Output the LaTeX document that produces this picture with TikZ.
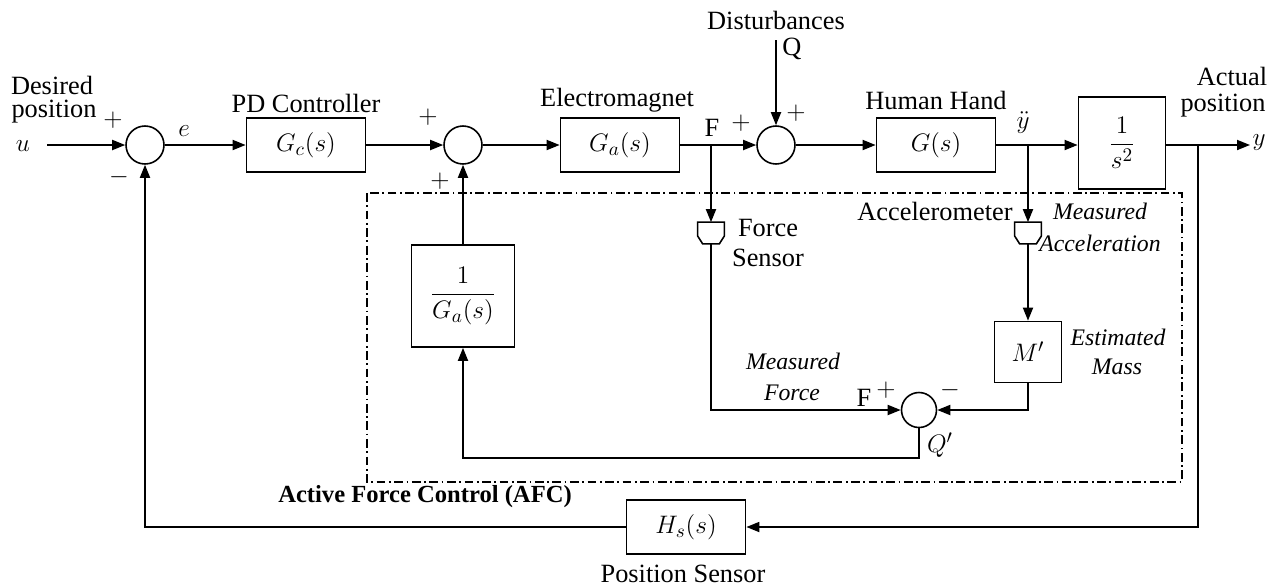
\documentclass[tikz,border=0pt]{standalone}
\usepackage{fontspec}
\setmainfont{Liberation Serif}
\usepackage{amsmath}
\usetikzlibrary{arrows.meta,positioning,calc}
\tikzset{
  blk/.style={draw,line width=1pt,minimum width=2.38cm,minimum height=1.08cm,
              font=\fontsize{15}{18}\selectfont,inner sep=0pt},
  sumj/.style={draw,circle,line width=0.9pt,minimum size=0.76cm,inner sep=0pt},
  sensor/.style={minimum width=0.52cm,minimum height=0.42cm,inner sep=0pt},
  arr/.style={-{Triangle[length=7.4pt,width=5.7pt]},line width=1pt},
  wire/.style={line width=1pt},
  lbl/.style={font=\fontsize{15}{18}\selectfont,inner sep=0pt},
  ilbl/.style={font=\fontsize{13.5}{16}\selectfont\itshape,inner sep=0pt},
  afcbox/.style={line width=1pt,dash pattern=on 5pt off 2pt on 1pt off 2pt},
}
\begin{document}
\begin{tikzpicture}[x=0.02cm,y=-0.02cm]
  \useasboundingbox (0,0) rectangle (1276,586);
  \node[sumj](s1) at (145,145){};
  \node[blk](gc) at (306,145){$G_c(s)$};
  \node[sumj](s2) at (463,145){};
  \node[blk](ga) at (620,145){$G_a(s)$};
  \node[sumj](s3) at (776,145){};
  \node[blk](gh) at (936,145){$G(s)$};
  \node[blk,minimum width=1.74cm,minimum height=1.84cm](ss) at (1122,143){$\dfrac{1}{s^2}$};
  \node[blk,minimum width=2.06cm,minimum height=2.04cm](inv) at (463,296){$\dfrac{1}{G_a(s)}$};
  \node[blk,minimum width=1.34cm,minimum height=1.22cm](mm) at (1028,352){$M'$};
  \node[sumj,minimum size=0.7cm](sq) at (919,410){};
  \node[blk](hs) at (686,527){$H_s(s)$};
  \node[sensor](fs) at (711,233){};
  \node[sensor](acc) at (1028,233){};
  \coordinate (uin) at (47,145);
  \coordinate (fpt) at (711,145);
  \coordinate (ydd) at (1028,145);
  \coordinate (ypt) at (1198,145);
  \coordinate (yout) at (1250,145);
  \coordinate (dist) at (776,40);
  \coordinate (qlow) at (0,458);

  \draw[afcbox] (367,193) rectangle (1182,482);

  \draw[arr] (uin) -- (s1);
  \draw[arr] (s1) -- (gc);
  \draw[arr] (gc) -- (s2);
  \draw[arr] (s2) -- (ga);
  \draw[arr] (ga) -- (s3);
  \draw[arr] (dist) -- (s3);
  \draw[arr] (s3) -- (gh);
  \draw[arr] (gh) -- (ss.west |- ydd);
  \draw[wire] (ss.east |- ypt) -- (ypt);
  \draw[arr] (ypt) -- (yout);
  \draw[arr] (ypt) |- (hs);
  \draw[arr] (hs) -| (s1);
  \draw[arr] (fpt) -- (fs);
  \draw[arr] (fs) |- (sq);
  \draw[arr] (ydd) -- (acc);
  \draw[arr] (acc) -- (mm);
  \draw[arr] (mm) |- (sq);
  \draw[arr] (sq) |- (qlow -| inv) -- (inv);
  \draw[arr] (inv) -- (s2);
  \foreach \s in {fs,acc}
    \draw[line width=0.9pt] (\s.north west) -- (\s.north east) -- ($(\s.east)+(0,3)$)
      -- ($(\s.south east)+(-5,0)$) -- ($(\s.south west)+(5,0)$) -- ($(\s.west)+(0,3)$) -- cycle;

  \node[lbl](ldes) at (52,85){Desired};
  \node[lbl](lpos) at (54,112){position};
  \node[lbl](lu) at (23,146){$u$};
  \node[lbl](p1) at (113,120){$+$};
  \node[lbl](m1) at (119,177){$-$};
  \node[lbl](le) at (184,131){$e$};
  \node[lbl](lpd) at (306,103){PD Controller};
  \node[lbl](p2) at (428,117){$+$};
  \node[lbl](p3) at (440,181){$+$};
  \node[lbl](lem) at (617,100){Electromagnet};
  \node[lbl](lf) at (712,128){F};
  \node[lbl](p4) at (741,123){$+$};
  \node[lbl](p5) at (796,113){$+$};
  \node[lbl](ldis) at (776,20){Disturbances};
  \node[lbl](lq) at (792,49){Q};
  \node[lbl](lhh) at (936,100){Human Hand};
  \node[lbl](lydd) at (1023,123){$\ddot{y}$};
  \node[lbl](lact) at (1232,76){Actual};
  \node[lbl](lapos) at (1223,106){position};
  \node[lbl](ly) at (1259,143){$y$};
  \node[lbl](lacc) at (935,211){Accelerometer};
  \node[ilbl](lma1) at (1100,211){Measured};
  \node[ilbl](lma2) at (1100,243){Acceleration};
  \node[lbl](lfs1) at (768,228){Force};
  \node[lbl](lfs2) at (768,258){Sensor};
  \node[ilbl](lmf1) at (793,361){Measured};
  \node[ilbl](lmf2) at (792,393){Force};
  \node[lbl](lf2) at (864,398){F};
  \node[lbl](p6) at (886,390){$+$};
  \node[lbl](m2) at (950,390){$-$};
  \node[lbl](lqq) at (940,445){$Q'$};
  \node[ilbl](lem1) at (1118,337){Estimated};
  \node[ilbl](lem2) at (1117,367){Mass};
  \node[lbl,font=\fontsize{14}{16}\selectfont\bfseries](lafc) at (425,497){Active Force Control (AFC)};
  \node[lbl](lps) at (683,574){Position Sensor};
\end{tikzpicture}
\end{document}
